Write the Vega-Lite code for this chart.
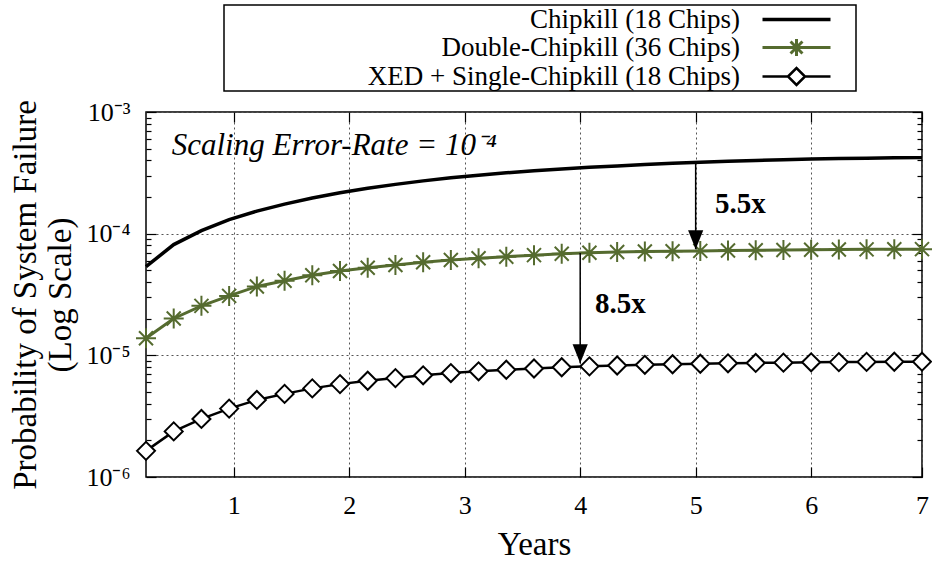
{
  "$schema": "https://vega.github.io/schema/vega-lite/v6.json",
  "width": 776,
  "height": 365,
  "autosize": {"type": "none"},
  "padding": {"left": 146, "top": 112, "right": 10, "bottom": 85},
  "background": "white",
  "config": {
    "view": {"stroke": "black", "strokeWidth": 1.5},
    "font": "Liberation Serif",
    "axis": {
      "labelFont": "Liberation Serif",
      "titleFont": "Liberation Serif",
      "labelColor": "black",
      "titleColor": "black",
      "titleFontWeight": "normal",
      "domain": false,
      "tickColor": "black",
      "tickWidth": 1.2,
      "gridColor": "#555555",
      "gridDash": [2, 3],
      "gridWidth": 1
    }
  },
  "datasets": {
    "curves": [
      {"years": 0.24, "series": "Chipkill (18 Chips)", "p": 5.36e-5},
      {"years": 0.48, "series": "Chipkill (18 Chips)", "p": 8.13e-5},
      {"years": 0.72, "series": "Chipkill (18 Chips)", "p": 1.059e-4},
      {"years": 0.96, "series": "Chipkill (18 Chips)", "p": 1.303e-4},
      {"years": 1.2, "series": "Chipkill (18 Chips)", "p": 1.531e-4},
      {"years": 1.44, "series": "Chipkill (18 Chips)", "p": 1.75e-4},
      {"years": 1.68, "series": "Chipkill (18 Chips)", "p": 1.963e-4},
      {"years": 1.92, "series": "Chipkill (18 Chips)", "p": 2.168e-4},
      {"years": 2.16, "series": "Chipkill (18 Chips)", "p": 2.36e-4},
      {"years": 2.4, "series": "Chipkill (18 Chips)", "p": 2.541e-4},
      {"years": 2.64, "series": "Chipkill (18 Chips)", "p": 2.716e-4},
      {"years": 2.88, "series": "Chipkill (18 Chips)", "p": 2.877e-4},
      {"years": 3.12, "series": "Chipkill (18 Chips)", "p": 3.027e-4},
      {"years": 3.36, "series": "Chipkill (18 Chips)", "p": 3.162e-4},
      {"years": 3.6, "series": "Chipkill (18 Chips)", "p": 3.289e-4},
      {"years": 3.84, "series": "Chipkill (18 Chips)", "p": 3.404e-4},
      {"years": 4.08, "series": "Chipkill (18 Chips)", "p": 3.508e-4},
      {"years": 4.32, "series": "Chipkill (18 Chips)", "p": 3.606e-4},
      {"years": 4.56, "series": "Chipkill (18 Chips)", "p": 3.698e-4},
      {"years": 4.8, "series": "Chipkill (18 Chips)", "p": 3.784e-4},
      {"years": 5.04, "series": "Chipkill (18 Chips)", "p": 3.864e-4},
      {"years": 5.28, "series": "Chipkill (18 Chips)", "p": 3.936e-4},
      {"years": 5.52, "series": "Chipkill (18 Chips)", "p": 3.999e-4},
      {"years": 5.76, "series": "Chipkill (18 Chips)", "p": 4.055e-4},
      {"years": 6.0, "series": "Chipkill (18 Chips)", "p": 4.102e-4},
      {"years": 6.24, "series": "Chipkill (18 Chips)", "p": 4.14e-4},
      {"years": 6.48, "series": "Chipkill (18 Chips)", "p": 4.169e-4},
      {"years": 6.72, "series": "Chipkill (18 Chips)", "p": 4.198e-4},
      {"years": 6.96, "series": "Chipkill (18 Chips)", "p": 4.217e-4},
      {"years": 0.24, "series": "Double-Chipkill (36 Chips)", "p": 1.38e-5},
      {"years": 0.48, "series": "Double-Chipkill (36 Chips)", "p": 2.01e-5},
      {"years": 0.72, "series": "Double-Chipkill (36 Chips)", "p": 2.55e-5},
      {"years": 0.96, "series": "Double-Chipkill (36 Chips)", "p": 3.08e-5},
      {"years": 1.2, "series": "Double-Chipkill (36 Chips)", "p": 3.68e-5},
      {"years": 1.44, "series": "Double-Chipkill (36 Chips)", "p": 4.1e-5},
      {"years": 1.68, "series": "Double-Chipkill (36 Chips)", "p": 4.55e-5},
      {"years": 1.92, "series": "Double-Chipkill (36 Chips)", "p": 4.93e-5},
      {"years": 2.16, "series": "Double-Chipkill (36 Chips)", "p": 5.25e-5},
      {"years": 2.4, "series": "Double-Chipkill (36 Chips)", "p": 5.53e-5},
      {"years": 2.64, "series": "Double-Chipkill (36 Chips)", "p": 5.82e-5},
      {"years": 2.88, "series": "Double-Chipkill (36 Chips)", "p": 6.08e-5},
      {"years": 3.12, "series": "Double-Chipkill (36 Chips)", "p": 6.28e-5},
      {"years": 3.36, "series": "Double-Chipkill (36 Chips)", "p": 6.47e-5},
      {"years": 3.6, "series": "Double-Chipkill (36 Chips)", "p": 6.66e-5},
      {"years": 3.84, "series": "Double-Chipkill (36 Chips)", "p": 6.84e-5},
      {"years": 4.08, "series": "Double-Chipkill (36 Chips)", "p": 6.97e-5},
      {"years": 4.32, "series": "Double-Chipkill (36 Chips)", "p": 7.06e-5},
      {"years": 4.56, "series": "Double-Chipkill (36 Chips)", "p": 7.13e-5},
      {"years": 4.8, "series": "Double-Chipkill (36 Chips)", "p": 7.18e-5},
      {"years": 5.04, "series": "Double-Chipkill (36 Chips)", "p": 7.22e-5},
      {"years": 5.28, "series": "Double-Chipkill (36 Chips)", "p": 7.27e-5},
      {"years": 5.52, "series": "Double-Chipkill (36 Chips)", "p": 7.31e-5},
      {"years": 5.76, "series": "Double-Chipkill (36 Chips)", "p": 7.35e-5},
      {"years": 6.0, "series": "Double-Chipkill (36 Chips)", "p": 7.38e-5},
      {"years": 6.24, "series": "Double-Chipkill (36 Chips)", "p": 7.41e-5},
      {"years": 6.48, "series": "Double-Chipkill (36 Chips)", "p": 7.43e-5},
      {"years": 6.72, "series": "Double-Chipkill (36 Chips)", "p": 7.45e-5},
      {"years": 6.96, "series": "Double-Chipkill (36 Chips)", "p": 7.46e-5},
      {"years": 0.24, "series": "XED + Single-Chipkill (18 Chips)", "p": 1.64e-6},
      {"years": 0.48, "series": "XED + Single-Chipkill (18 Chips)", "p": 2.37e-6},
      {"years": 0.72, "series": "XED + Single-Chipkill (18 Chips)", "p": 3.0e-6},
      {"years": 0.96, "series": "XED + Single-Chipkill (18 Chips)", "p": 3.65e-6},
      {"years": 1.2, "series": "XED + Single-Chipkill (18 Chips)", "p": 4.3e-6},
      {"years": 1.44, "series": "XED + Single-Chipkill (18 Chips)", "p": 4.82e-6},
      {"years": 1.68, "series": "XED + Single-Chipkill (18 Chips)", "p": 5.35e-6},
      {"years": 1.92, "series": "XED + Single-Chipkill (18 Chips)", "p": 5.8e-6},
      {"years": 2.16, "series": "XED + Single-Chipkill (18 Chips)", "p": 6.18e-6},
      {"years": 2.4, "series": "XED + Single-Chipkill (18 Chips)", "p": 6.5e-6},
      {"years": 2.64, "series": "XED + Single-Chipkill (18 Chips)", "p": 6.85e-6},
      {"years": 2.88, "series": "XED + Single-Chipkill (18 Chips)", "p": 7.15e-6},
      {"years": 3.12, "series": "XED + Single-Chipkill (18 Chips)", "p": 7.39e-6},
      {"years": 3.36, "series": "XED + Single-Chipkill (18 Chips)", "p": 7.61e-6},
      {"years": 3.6, "series": "XED + Single-Chipkill (18 Chips)", "p": 7.8e-6},
      {"years": 3.84, "series": "XED + Single-Chipkill (18 Chips)", "p": 7.98e-6},
      {"years": 4.08, "series": "XED + Single-Chipkill (18 Chips)", "p": 8.12e-6},
      {"years": 4.32, "series": "XED + Single-Chipkill (18 Chips)", "p": 8.25e-6},
      {"years": 4.56, "series": "XED + Single-Chipkill (18 Chips)", "p": 8.36e-6},
      {"years": 4.8, "series": "XED + Single-Chipkill (18 Chips)", "p": 8.45e-6},
      {"years": 5.04, "series": "XED + Single-Chipkill (18 Chips)", "p": 8.53e-6},
      {"years": 5.28, "series": "XED + Single-Chipkill (18 Chips)", "p": 8.6e-6},
      {"years": 5.52, "series": "XED + Single-Chipkill (18 Chips)", "p": 8.66e-6},
      {"years": 5.76, "series": "XED + Single-Chipkill (18 Chips)", "p": 8.71e-6},
      {"years": 6.0, "series": "XED + Single-Chipkill (18 Chips)", "p": 8.76e-6},
      {"years": 6.24, "series": "XED + Single-Chipkill (18 Chips)", "p": 8.8e-6},
      {"years": 6.48, "series": "XED + Single-Chipkill (18 Chips)", "p": 8.83e-6},
      {"years": 6.72, "series": "XED + Single-Chipkill (18 Chips)", "p": 8.85e-6},
      {"years": 6.96, "series": "XED + Single-Chipkill (18 Chips)", "p": 8.87e-6}
    ],
    "arrows": [
      {"years": 5, "from": 3.85e-4, "tip": 7.45e-5},
      {"years": 4, "from": 6.93e-5, "tip": 8.6e-6}
    ],
    "notes": [
      {"years": 5.167, "p": 1.486e-4, "text": "5.5x"},
      {"years": 4.128, "p": 2.21e-5, "text": "8.5x"}
    ],
    "caption": [
      {"years": 0.463, "p": 4.43e-4, "text": "Scaling Error-Rate = 10⁻⁴"}
    ]
  },
  "layer": [
    {
      "data": {"name": "curves"},
      "mark": {"type": "line"},
      "encoding": {
        "x": {
          "field": "years", "type": "quantitative",
          "scale": {"domain": [0.24, 6.96], "nice": false, "zero": false},
          "axis": {
            "orient": "bottom", "title": "Years",
            "values": [1, 2, 3, 4, 5, 6, 6.96],
            "labelExpr": "datum.value > 6.9 ? '7' : datum.label",
            "tickSize": -10, "labelPadding": 25, "labelFontSize": 26,
            "titleFontSize": 33, "titlePadding": 10, "grid": true, "labelFlush": false
          }
        },
        "y": {
          "field": "p", "type": "quantitative",
          "scale": {"type": "log", "domain": [1e-6, 1e-3], "nice": false},
          "axis": {
            "orient": "left",
            "title": ["Probability of System Failure", "(Log Scale)"],
            "values": [1e-6, 2e-6, 3e-6, 4e-6, 5e-6, 6e-6, 7e-6, 8e-6, 9e-6, 1e-5, 2e-5, 3e-5, 4e-5, 5e-5, 6e-5, 7e-5, 8e-5, 9e-5, 1e-4, 2e-4, 3e-4, 4e-4, 5e-4, 6e-4, 7e-4, 8e-4, 9e-4, 1e-3],
            "labelExpr": "abs(log(datum.value)/LN10 - round(log(datum.value)/LN10)) < 0.001 ? '10' + (round(log(datum.value)/LN10) == -3 ? '⁻³' : round(log(datum.value)/LN10) == -4 ? '⁻⁴' : round(log(datum.value)/LN10) == -5 ? '⁻⁵' : '⁻⁶') : ''",
            "tickSize": {"condition": {"test": "abs(log(datum.value)/LN10 - round(log(datum.value)/LN10)) < 0.001", "value": -10}, "value": -5},
            "gridOpacity": {"condition": {"test": "abs(log(datum.value)/LN10 - round(log(datum.value)/LN10)) < 0.001", "value": 1}, "value": 0},
            "grid": true,
            "labelFontSize": 26, "labelPadding": 26, "labelFlush": false,
            "titleFontSize": 33, "titleLineHeight": 35, "titlePadding": 8
          }
        },
        "color": {
          "field": "series", "type": "nominal",
          "scale": {
            "domain": ["Chipkill (18 Chips)", "Double-Chipkill (36 Chips)", "XED + Single-Chipkill (18 Chips)"],
            "range": ["#000000", "#556b2f", "#000000"]
          },
          "legend": {
            "orient": "none", "legendX": 78, "legendY": -107, "title": null,
            "direction": "vertical",
            "strokeColor": "black", "fillColor": "white", "padding": 1,
            "labelFont": "Liberation Serif", "labelFontSize": 27, "labelColor": "black",
            "labelAlign": "right", "labelOffset": -70, "labelLimit": 1000,
            "symbolOffset": 558, "rowPadding": 0, "symbolSize": 289,
            "encode": {
              "legend": {"update": {"strokeWidth": {"value": 1.5}}},
              "symbols": {
                "update": {
                  "shape": {"signal": "datum.value == 'Chipkill (18 Chips)' ? 'M-4,0L4,0M6,0' : datum.value == 'Double-Chipkill (36 Chips)' ? 'M-4,0L4,0M0,-1L0,1M-0.7,-0.7L0.7,0.7M-0.7,0.7L0.7,-0.7M6,0' : 'M-4,0L-1,0M1,0L4,0M-1,0L0,-1L1,0L0,1ZM6,0'"},
                  "strokeWidth": {"signal": "datum.value == 'Chipkill (18 Chips)' ? 3.5 : 2"},
                  "fill": {"value": "white"},
                  "size": {"value": 289}
                }
              }
            }
          }
        },
        "strokeWidth": {
          "field": "series", "type": "nominal",
          "scale": {
            "domain": ["Chipkill (18 Chips)", "Double-Chipkill (36 Chips)", "XED + Single-Chipkill (18 Chips)"],
            "range": [3.5, 2.5, 2]
          },
          "legend": null
        }
      }
    },
    {
      "data": {"name": "curves"},
      "transform": [{"filter": "datum.series == 'Double-Chipkill (36 Chips)'"}],
      "mark": {"type": "point", "shape": "M-1,0L1,0M0,-1L0,1M-0.7,-0.7L0.7,0.7M-0.7,0.7L0.7,-0.7", "size": 400, "stroke": "#556b2f", "strokeWidth": 2, "filled": false, "opacity": 1},
      "encoding": {
        "x": {"field": "years", "type": "quantitative", "axis": null},
        "y": {"field": "p", "type": "quantitative", "axis": null}
      }
    },
    {
      "data": {"name": "curves"},
      "transform": [{"filter": "datum.series == 'XED + Single-Chipkill (18 Chips)'"}],
      "mark": {"type": "point", "shape": "diamond", "size": 324, "fill": "white", "stroke": "black", "strokeWidth": 2, "filled": true, "opacity": 1},
      "encoding": {
        "x": {"field": "years", "type": "quantitative", "axis": null},
        "y": {"field": "p", "type": "quantitative", "axis": null}
      }
    },
    {
      "data": {"name": "arrows"},
      "mark": {"type": "rule", "color": "black", "strokeWidth": 1.5},
      "encoding": {
        "x": {"field": "years", "type": "quantitative", "axis": null},
        "y": {"field": "from", "type": "quantitative", "axis": null},
        "y2": {"field": "tip"}
      }
    },
    {
      "data": {"name": "arrows"},
      "mark": {"type": "point", "shape": "M-0.4,-1L0.4,-1L0,0Z", "size": 1444, "filled": true, "color": "black", "opacity": 1},
      "encoding": {
        "x": {"field": "years", "type": "quantitative", "axis": null},
        "y": {"field": "tip", "type": "quantitative", "axis": null}
      }
    },
    {
      "data": {"name": "notes"},
      "mark": {"type": "text", "align": "left", "baseline": "alphabetic", "font": "Liberation Serif", "fontSize": 29, "fontWeight": "bold", "color": "black"},
      "encoding": {
        "x": {"field": "years", "type": "quantitative", "axis": null},
        "y": {"field": "p", "type": "quantitative", "axis": null},
        "text": {"field": "text"}
      }
    },
    {
      "data": {"name": "caption"},
      "mark": {"type": "text", "align": "left", "baseline": "alphabetic", "font": "Liberation Serif", "fontSize": 31, "fontStyle": "italic", "color": "black"},
      "encoding": {
        "x": {
          "field": "years", "type": "quantitative",
          "axis": {"orient": "top", "values": [1, 2, 3, 4, 5, 6, 6.96], "labels": false, "title": null, "tickSize": -10, "grid": false}
        },
        "y": {
          "field": "p", "type": "quantitative",
          "axis": {
            "orient": "right", "labels": false, "title": null, "grid": false,
            "values": [1e-6, 2e-6, 3e-6, 4e-6, 5e-6, 6e-6, 7e-6, 8e-6, 9e-6, 1e-5, 2e-5, 3e-5, 4e-5, 5e-5, 6e-5, 7e-5, 8e-5, 9e-5, 1e-4, 2e-4, 3e-4, 4e-4, 5e-4, 6e-4, 7e-4, 8e-4, 9e-4, 1e-3],
            "tickSize": {"condition": {"test": "abs(log(datum.value)/LN10 - round(log(datum.value)/LN10)) < 0.001", "value": -10}, "value": -5}
          }
        },
        "text": {"field": "text"}
      }
    }
  ],
  "resolve": {"axis": {"x": "independent", "y": "independent"}}
}
